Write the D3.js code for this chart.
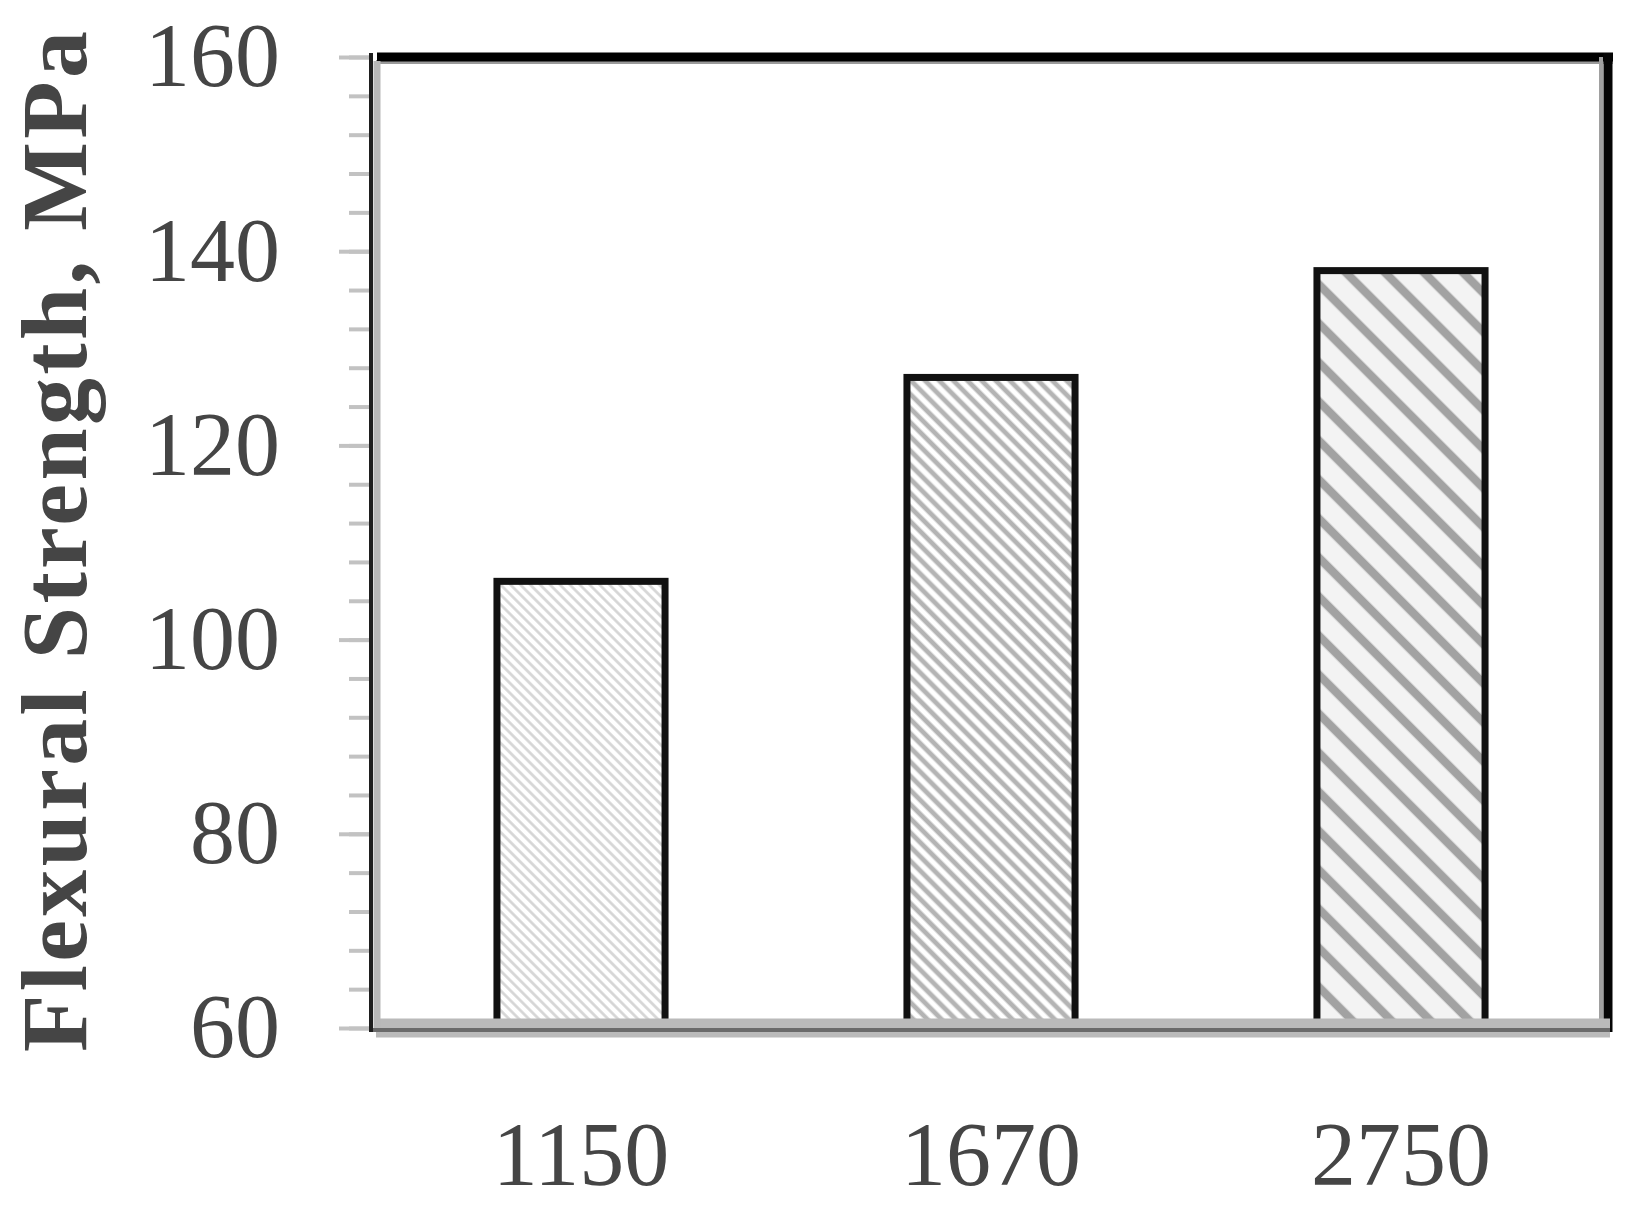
<!DOCTYPE html>
<html>
<head>
<meta charset="utf-8">
<script src="https://cdn.jsdelivr.net/npm/d3@7"></script>
<style>
  body { margin: 0; background: #fff; }
  svg { display: block; }
</style>
</head>
<body>
<div id="chart"></div>
<script>
const categories = ["1150", "1670", "2750"];
const strengths = [106, 127, 138];
const yTicks = [60, 80, 100, 120, 140, 160];
const yMinorTicks = d3.range(60, 161, 4);
const yTitle = "Flexural Strength, MPa";

const width = 1634, height = 1210;
const plot = { left: 376, right: 1606, top: 57, bottom: 1028 };

const svg = d3.select("#chart").append("svg")
    .attr("width", width)
    .attr("height", height);

// hatch patterns, one per bar
const hatches = [
    { id: "h1", period: 7, stroke: "#d4d4d4", sw: 2.6, bg: "#ffffff" },
    { id: "h2", period: 10, stroke: "#b4b4b4", sw: 4.8, bg: "#ffffff" },
    { id: "h3", period: 27.6, stroke: "#a2a2a2", sw: 8.5, bg: "#f3f3f3" }
];
const defs = svg.append("defs");
hatches.forEach(h => {
    const p = defs.append("pattern")
        .attr("id", h.id)
        .attr("patternUnits", "userSpaceOnUse")
        .attr("width", h.period)
        .attr("height", h.period)
        .attr("patternTransform", "rotate(-45)");
    p.append("rect").attr("width", h.period).attr("height", h.period).attr("fill", h.bg);
    p.append("line")
        .attr("x1", h.period / 2).attr("x2", h.period / 2)
        .attr("y1", 0).attr("y2", h.period)
        .attr("stroke", h.stroke)
        .attr("stroke-width", h.sw);
});

const x = d3.scaleBand()
    .domain(categories)
    .range([plot.left, plot.right])
    .paddingInner(0.59)
    .paddingOuter(0.295);

const y = d3.scaleLinear()
    .domain([60, 160])
    .range([plot.bottom, plot.top]);

// bars
svg.selectAll("rect.bar")
    .data(categories.map((c, i) => ({ c, v: strengths[i], i })))
    .enter().append("rect")
    .attr("class", "bar")
    .attr("x", d => x(d.c))
    .attr("y", d => y(d.v))
    .attr("width", x.bandwidth())
    .attr("height", d => y(60) - y(d.v))
    .attr("fill", d => `url(#${hatches[d.i].id})`)
    .attr("stroke", "#111")
    .attr("stroke-width", 7);

// frame: top and right borders (black with gray inner edge)
svg.append("line")
    .attr("x1", plot.left).attr("x2", plot.right + 7)
    .attr("y1", plot.top + 5).attr("y2", plot.top + 5)
    .attr("stroke", "#9a9a9a").attr("stroke-width", 4);
svg.append("line")
    .attr("x1", plot.left + 1).attr("x2", plot.right + 7)
    .attr("y1", plot.top).attr("y2", plot.top)
    .attr("stroke", "#000").attr("stroke-width", 9);
svg.append("line")
    .attr("x1", plot.right - 5).attr("x2", plot.right - 5)
    .attr("y1", plot.top).attr("y2", plot.bottom)
    .attr("stroke", "#a0a0a0").attr("stroke-width", 4);
svg.append("line")
    .attr("x1", plot.right + 2).attr("x2", plot.right + 2)
    .attr("y1", plot.top - 4).attr("y2", plot.bottom + 4)
    .attr("stroke", "#050505").attr("stroke-width", 9);

// bottom axis band
svg.append("line")
    .attr("x1", plot.left).attr("x2", plot.right + 4)
    .attr("y1", plot.bottom).attr("y2", plot.bottom)
    .attr("stroke", "#bababa").attr("stroke-width", 19);
svg.append("line")
    .attr("x1", plot.left - 4).attr("x2", plot.right + 4)
    .attr("y1", plot.bottom + 2).attr("y2", plot.bottom + 2)
    .attr("stroke", "#6a6a6a").attr("stroke-width", 4);

// left axis: minor ticks, major ticks with labels
const axisX = 371;
const minor = svg.append("g")
    .attr("transform", `translate(${axisX},0)`)
    .call(d3.axisLeft(y).tickValues(yMinorTicks).tickSize(22).tickFormat(""));
minor.select(".domain").remove();
minor.selectAll(".tick line").attr("stroke", "#c2c2c2").attr("stroke-width", 4);

const major = svg.append("g")
    .attr("transform", `translate(${axisX},0)`)
    .call(d3.axisLeft(y).tickValues(yTicks).tickSize(32).tickPadding(59));
major.select(".domain").remove();
major.selectAll(".tick line").attr("stroke", "#c2c2c2").attr("stroke-width", 4);
major.selectAll(".tick text")
    .attr("fill", "#454545")
    .style("font-family", "'Liberation Serif', 'Times New Roman', serif")
    .style("font-size", "90px");

// left axis double line
svg.append("line")
    .attr("x1", axisX).attr("x2", axisX)
    .attr("y1", plot.top - 4).attr("y2", plot.bottom + 4)
    .attr("stroke", "#1e1e1e").attr("stroke-width", 4);
svg.append("line")
    .attr("x1", axisX + 6).attr("x2", axisX + 6)
    .attr("y1", plot.top + 4).attr("y2", plot.bottom)
    .attr("stroke", "#b8b8b8").attr("stroke-width", 7);

// x labels
const xAxis = svg.append("g")
    .attr("transform", `translate(0,${plot.bottom})`)
    .call(d3.axisBottom(x).tickSize(0).tickPadding(93));
xAxis.select(".domain").remove();
xAxis.selectAll(".tick text")
    .attr("fill", "#454545")
    .style("font-family", "'Liberation Serif', 'Times New Roman', serif")
    .style("font-size", "90px");

// y title
svg.append("text")
    .attr("transform", `translate(86,${(31 + 1052) / 2}) rotate(-90)`)
    .attr("text-anchor", "middle")
    .attr("textLength", 1021)
    .attr("lengthAdjust", "spacing")
    .attr("fill", "#454545")
    .style("font-family", "'Liberation Serif', 'Times New Roman', serif")
    .style("font-weight", "bold")
    .style("font-size", "94px")
    .text(yTitle);
</script>
</body>
</html>
